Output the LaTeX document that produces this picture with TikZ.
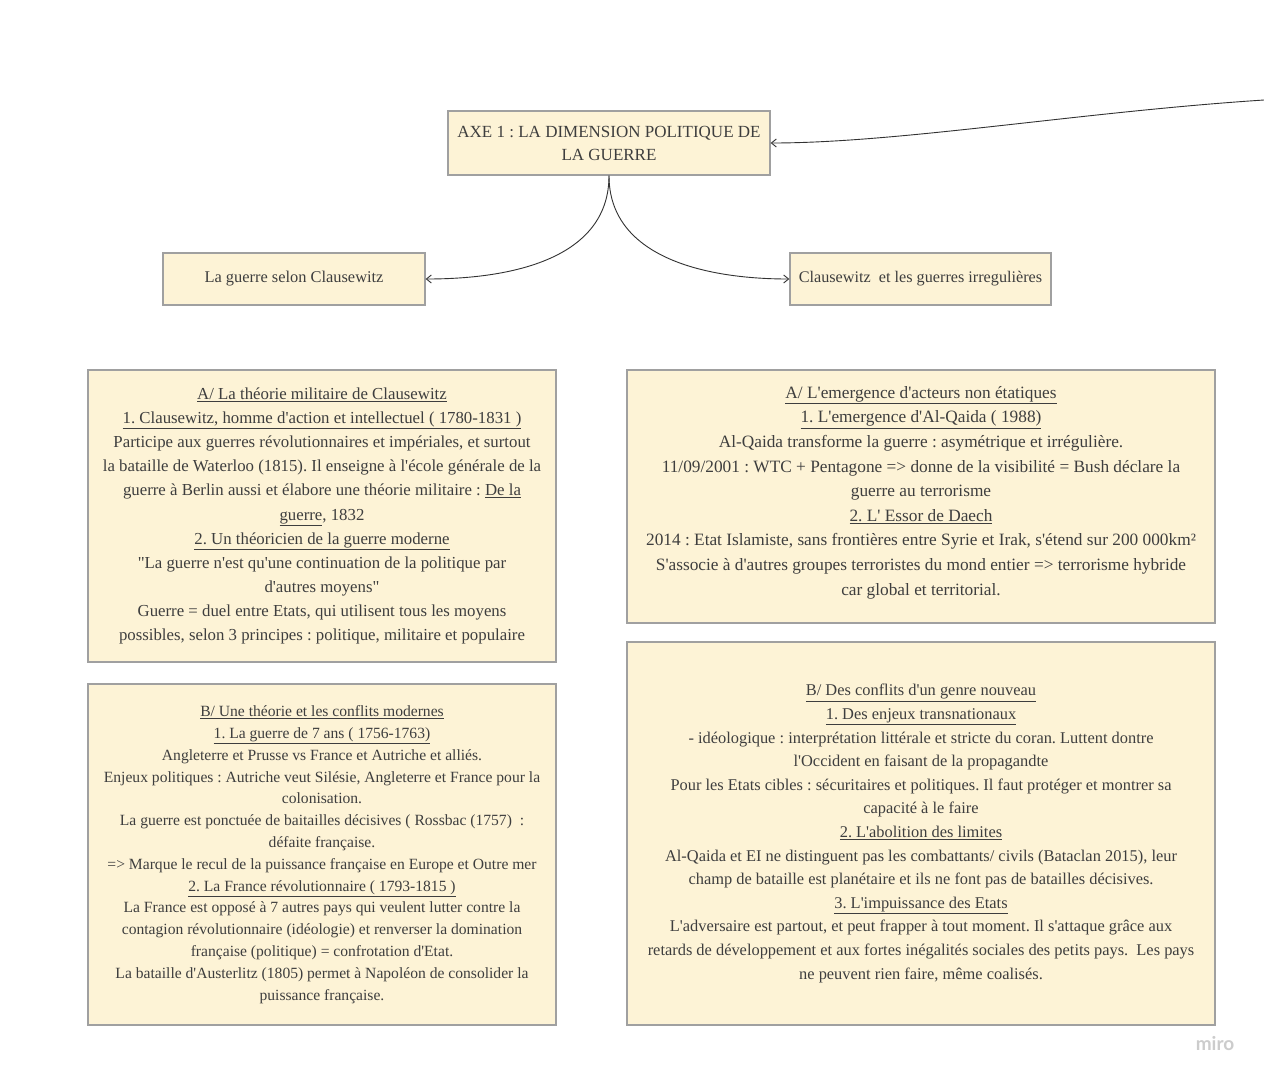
\documentclass[tikz,border=0pt]{standalone}
\usepackage{fontspec}
\defaultfontfeatures[\rmfamily]{}
\setmainfont{Liberation Serif}
\newfontfamily\logofont{Lato}
\usetikzlibrary{arrows.meta}
\frenchspacing
\definecolor{boxfill}{RGB}{253,243,214}
\definecolor{boxline}{RGB}{160,160,160}
\definecolor{txt}{RGB}{62,62,62}
\definecolor{linkcol}{RGB}{50,50,50}
\begin{document}
\begin{tikzpicture}[x=1pt,y=-1pt,
  box/.style={draw=boxline, fill=boxfill, line width=1.3pt, align=center, text=txt, inner sep=0pt},
  plain/.style={align=center, text=txt, inner sep=0pt},
  link/.style={draw=linkcol, line width=0.9pt, -{Straight Barb[length=5pt,width=8pt]}}]
\useasboundingbox[fill=white] (0,0) rectangle (1264,1080);

\node[box, minimum width=322pt, minimum height=64pt, font={\fontsize{17}{23}\selectfont}] (title) at (609,143)
  {AXE 1 : LA DIMENSION POLITIQUE DE\\LA GUERRE};
\node[box, minimum width=262pt, minimum height=52pt, font={\fontsize{16.4}{20}\selectfont}] (lmid) at (294,279)
  {La guerre selon Clausewitz};
\node[box, minimum width=261pt, minimum height=52pt, font={\fontsize{16.2}{20}\selectfont}] (rmid) at (920.5,279)
  {Clausewitz\ \ et les guerres irregulières};

\node[box, minimum width=468pt, minimum height=292pt, font={\fontsize{16.8}{24.1}\selectfont}] (al) at (322,516)
  {\underline{A/ La théorie militaire de Clausewitz}\\
   \underline{1. Clausewitz, homme d'action et intellectuel ( 1780-1831 )}\\
   Participe aux guerres révolutionnaires et impériales, et surtout\\
   la bataille de Waterloo (1815). Il enseigne à l'école générale de la\\
   guerre à Berlin aussi et élabore une théorie militaire : \underline{De la}\\
   \underline{guerre}, 1832\\
   \underline{2. Un théoricien de la guerre moderne}\\
   "La guerre n'est qu'une continuation de la politique par\\
   d'autres moyens"\\
   Guerre = duel entre Etats, qui utilisent tous les moyens\\
   possibles, selon 3 principes : politique, militaire et populaire};

\node[box, minimum width=468pt, minimum height=341pt, font={\fontsize{15.6}{21.8}\selectfont}] (bl) at (322,854.5)
  {\underline{B/ Une théorie et les conflits modernes}\\
   \underline{1. La guerre de 7 ans ( 1756-1763)}\\
   Angleterre et Prusse vs France et Autriche et alliés.\\
   Enjeux politiques : Autriche veut Silésie, Angleterre et France pour la\\
   colonisation.\\
   La guerre est ponctuée de baitailles décisives ( Rossbac (1757)\ \ :\\
   défaite française.\\
   => Marque le recul de la puissance française en Europe et Outre mer\\
   \underline{2. La France révolutionnaire ( 1793-1815 )}\\
   La France est opposé à 7 autres pays qui veulent lutter contre la\\
   contagion révolutionnaire (idéologie) et renverser la domination\\
   française (politique) = confrotation d'Etat.\\
   La bataille d'Austerlitz (1805) permet à Napoléon de consolider la\\
   puissance française.};

\node[box, minimum width=588pt, minimum height=253pt] (ar) at (921,496.5) {};
\node[plain, font={\fontsize{17.3}{24.6}\selectfont}] (artext) at (921,492.5)
  {\underline{A/ L'emergence d'acteurs non étatiques}\\
   \underline{1. L'emergence d'Al-Qaida ( 1988)}\\
   Al-Qaida transforme la guerre : asymétrique et irrégulière.\\
   11/09/2001 : WTC + Pentagone => donne de la visibilité = Bush déclare la\\
   guerre au terrorisme\\
   \underline{2. L' Essor de Daech}\\
   2014 : Etat Islamiste, sans frontières entre Syrie et Irak, s'étend sur 200 000km²\\
   S'associe à d'autres groupes terroristes du mond entier => terrorisme hybride\\
   car global et territorial.};

\node[box, minimum width=588pt, minimum height=383pt, font={\fontsize{16.4}{23.6}\selectfont}] (br) at (921,833.5)
  {\underline{B/ Des conflits d'un genre nouveau}\\
   \underline{1. Des enjeux transnationaux}\\
   - idéologique : interprétation littérale et stricte du coran. Luttent dontre\\
   l'Occident en faisant de la propagandte\\
   Pour les Etats cibles : sécuritaires et politiques. Il faut protéger et montrer sa\\
   capacité à le faire\\
   \underline{2. L'abolition des limites}\\
   Al-Qaida et EI ne distinguent pas les combattants/ civils (Bataclan 2015), leur\\
   champ de bataille est planétaire et ils ne font pas de batailles décisives.\\
   \underline{3. L'impuissance des Etats}\\
   L'adversaire est partout, et peut frapper à tout moment. Il s'attaque grâce aux\\
   retards de développement et aux fortes inégalités sociales des petits pays.\ \ Les pays\\
   ne peuvent rien faire, même coalisés.};

\coordinate (tr) at (1264,100);
\draw[link] (title.south) .. controls (609,255) and (520,279) .. (lmid.east);
\draw[link] (title.south) .. controls (609,255) and (700,279) .. (rmid.west);
\draw[link] (tr) .. controls (1080,112) and (900,143) .. (title.east);

\node[text=black!20, font={\logofont\bfseries\fontsize{19}{19}\selectfont}] (miro) at (1215,1044) {miro};
\end{tikzpicture}
\end{document}
